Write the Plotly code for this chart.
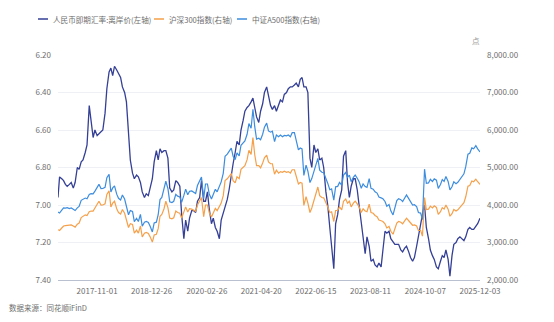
import plotly.graph_objects as go

# ---- x grid: semi-monthly sampling dates (1st and 15th), 2017-01-03 .. 2025-12-03
dates = []
for yr in range(2017, 2026):
    for mo in range(1, 13):
        if (yr, mo) > (2025, 11):
            break
        for d in (1, 15):
            dates.append(f"{yr}-{mo:02d}-{d:02d}")
dates[0] = "2017-01-03"
dates.append("2025-12-03")

# ---- values
cny_offshore = [
    6.96, 6.85, 6.86, 6.87, 6.89, 6.90, 6.89, 6.88, 6.91, 6.88, 6.80, 6.81, 6.77, 6.76, 6.72, 6.68, 6.47, 6.55, 6.64, 6.60, 6.63, 6.62, 6.61, 6.60,
    6.51, 6.38, 6.29, 6.27, 6.31, 6.26, 6.28, 6.30, 6.32, 6.37, 6.40, 6.45, 6.62, 6.76, 6.83, 6.86, 6.84, 6.85, 6.88, 6.93, 6.96, 6.94, 6.95, 6.90,
    6.86, 6.77, 6.71, 6.76, 6.70, 6.72, 6.71, 6.71, 6.75, 6.91, 6.93, 6.92, 6.87, 6.88, 6.90, 7.05, 7.18, 7.08, 7.14, 7.07, 7.03, 7.03, 7.04, 6.98,
    6.96, 6.87, 6.98, 6.98, 6.93, 7.02, 7.10, 7.07, 7.12, 7.14, 7.18, 7.08, 7.04, 7.00, 6.97, 6.92, 6.83, 6.78, 6.72, 6.66, 6.68, 6.60, 6.55, 6.50,
    6.48, 6.47, 6.45, 6.43, 6.48, 6.53, 6.56, 6.50, 6.46, 6.40, 6.37, 6.42, 6.47, 6.49, 6.47, 6.50, 6.46, 6.44, 6.45, 6.41, 6.40, 6.38, 6.37, 6.37,
    6.36, 6.35, 6.37, 6.33, 6.32, 6.37, 6.37, 6.40, 6.75, 6.80, 6.68, 6.72, 6.70, 6.76, 6.75, 6.80, 6.93, 7.00, 7.12, 7.22, 7.34, 7.10, 7.05, 6.97,
    6.92, 6.74, 6.71, 6.88, 6.96, 6.90, 6.86, 6.86, 6.92, 7.00, 7.10, 7.15, 7.26, 7.17, 7.22, 7.30, 7.29, 7.32, 7.33, 7.31, 7.33, 7.24, 7.14, 7.15,
    7.14, 7.18, 7.20, 7.21, 7.21, 7.21, 7.24, 7.25, 7.23, 7.22, 7.25, 7.28, 7.30, 7.28, 7.22, 7.16, 7.10, 7.05, 7.00, 7.12, 7.18, 7.24, 7.27, 7.29,
    7.33, 7.34, 7.30, 7.27, 7.28, 7.24, 7.29, 7.38, 7.27, 7.21, 7.20, 7.18, 7.17, 7.18, 7.19, 7.17, 7.13, 7.12, 7.13, 7.13, 7.11, 7.10, 7.07,
]

csi300 = [
    3342, 3320, 3387, 3440, 3452, 3463, 3456, 3470, 3439, 3410, 3488, 3520, 3666, 3700, 3737, 3720, 3822, 3840, 3837, 3920, 4006, 4100, 3998, 4000,
    4030, 4280, 4380, 3950, 4050, 4100, 3900, 3800, 3760, 3880, 3780, 3600, 3400, 3500, 3480, 3250, 3330, 3250, 3440, 3150, 3250, 3270, 3240, 3150,
    3010, 3200, 3220, 3370, 3700, 3750, 3900, 4100, 3930, 3650, 3630, 3660, 3840, 3800, 3780, 3650, 3800, 3950, 3815, 3900, 3890, 3870, 3830, 4000,
    4100, 4200, 3690, 4000, 4000, 3800, 3680, 3800, 3910, 3850, 3970, 4050, 4250, 4650, 4700, 4780, 4840, 4650, 4590, 4750, 4700, 4950, 5000, 5050,
    5210, 5460, 5350, 5800, 5340, 5050, 5050, 4990, 5120, 5260, 5330, 5150, 5100, 5100, 4820, 4930, 4850, 4890, 4870, 4900, 4870, 4890, 4850, 4940,
    4940, 4740, 4560, 4600, 4580, 3990, 4220, 4050, 3800, 3920, 4100, 4300, 4480, 4250, 4200, 4190, 4080, 3950, 3800, 3820, 3560, 3850, 3860, 3950,
    3870, 4100, 4160, 4050, 4100, 3950, 4050, 4100, 4030, 3950, 3800, 3900, 3840, 3820, 4020, 3800, 3780, 3720, 3690, 3600, 3580, 3560, 3500, 3390,
    3430, 3300, 3220, 3380, 3520, 3560, 3540, 3500, 3600, 3650, 3580, 3530, 3460, 3470, 3440, 3320, 3320, 3170, 4200, 3880, 3890, 3970, 3920, 3980,
    3935, 3750, 3820, 3930, 3890, 4000, 3890, 3700, 3770, 3880, 3840, 3870, 3940, 4000, 4060, 4220, 4500, 4520, 4640, 4620, 4690, 4620, 4550,
]

csi_a500 = [
    3810, 3785, 3861, 3922, 3918, 3930, 3905, 3921, 3886, 3853, 3924, 3960, 4124, 4144, 4185, 4166, 4281, 4301, 4297, 4371, 4467, 4551, 4438, 4440,
    4473, 4729, 4818, 4345, 4455, 4510, 4290, 4180, 4136, 4268, 4158, 3960, 3740, 3850, 3828, 3559, 3646, 3559, 3750, 3434, 3543, 3564, 3532, 3434,
    3281, 3520, 3542, 3741, 4144, 4200, 4407, 4633, 4441, 4088, 4066, 4099, 4282, 4237, 4215, 4070, 4256, 4424, 4273, 4368, 4376, 4354, 4309, 4520,
    4633, 4746, 4170, 4560, 4560, 4294, 4158, 4294, 4418, 4351, 4506, 4617, 4845, 5301, 5358, 5449, 5518, 5301, 5210, 5391, 5311, 5594, 5650, 5707,
    5887, 6170, 6046, 6554, 6088, 5757, 5782, 5739, 5888, 6075, 6183, 5974, 5942, 5967, 5688, 5867, 5820, 5868, 5820, 5856, 5844, 5868, 5820, 5928,
    5928, 5688, 5472, 5520, 5496, 4788, 5064, 4901, 4598, 4704, 4879, 5074, 5242, 4930, 4872, 4860, 4733, 4582, 4408, 4431, 4130, 4485, 4497, 4602,
    4528, 4797, 4867, 4739, 4797, 4622, 4739, 4797, 4715, 4622, 4446, 4563, 4493, 4469, 4703, 4446, 4423, 4352, 4317, 4212, 4189, 4165, 4095, 3966,
    4013, 3845, 3735, 3938, 4118, 4165, 4142, 4095, 4212, 4271, 4171, 4095, 3996, 4008, 3956, 3801, 3785, 3614, 4956, 4578, 4590, 4685, 4626, 4696,
    4663, 4444, 4546, 4677, 4629, 4760, 4629, 4403, 4486, 4617, 4570, 4605, 4689, 4760, 4831, 5022, 5355, 5379, 5522, 5498, 5581, 5498, 5415,
]

x_tick_labels = ["2017-11-01", "2018-12-26", "2020-02-26", "2021-04-20",
                 "2022-06-15", "2023-08-11", "2024-10-07", "2025-12-03"]
left_ticks = [6.20, 6.40, 6.60, 6.80, 7.00, 7.20, 7.40]
right_ticks = [2000, 3000, 4000, 5000, 6000, 7000, 8000]

names = ["人民币即期汇率:离岸价(左轴)", "沪深300指数(右轴)", "中证A500指数(右轴)"]
colors = ["#343f96", "#f5a04a", "#3d8ddf"]

FONT = "Noto Sans CJK SC"
GRAY = "#6e6e6e"

fig = go.Figure()
fig.add_trace(go.Scatter(x=dates, y=csi300, name=names[1], yaxis="y2", mode="lines",
                         line=dict(color=colors[1], width=1.2), showlegend=False))
fig.add_trace(go.Scatter(x=dates, y=csi_a500, name=names[2], yaxis="y2", mode="lines",
                         line=dict(color=colors[2], width=1.2), showlegend=False))
fig.add_trace(go.Scatter(x=dates, y=cny_offshore, name=names[0], yaxis="y", mode="lines",
                         line=dict(color=colors[0], width=1.3), showlegend=False))

W, H = 554, 322
L, R, T, B = 58, 74, 55, 42

fig.update_layout(
    width=W, height=H,
    margin=dict(l=L, r=R, t=T, b=B, pad=0),
    paper_bgcolor="white", plot_bgcolor="white",
    font=dict(family=FONT, size=8, color=GRAY),
    xaxis=dict(type="date", range=["2017-01-03", "2025-12-03"],
               tickvals=x_tick_labels, ticktext=x_tick_labels,
               showgrid=False, zeroline=False, showline=True,
               linecolor="#b9c0cf", linewidth=1, ticks="",
               tickfont=dict(size=8, color=GRAY), ticklabelstandoff=3),
    yaxis=dict(range=[7.4, 6.2], tickvals=left_ticks, tickformat=".2f",
               showgrid=True, gridcolor="#eef0f5", gridwidth=1, zeroline=False,
               showline=False, ticks="", tickfont=dict(size=8, color=GRAY),
               ticklabelstandoff=6),
    yaxis2=dict(range=[2000, 8000], tickvals=right_ticks, tickformat=",.2f",
                overlaying="y", side="right", showgrid=False, zeroline=False,
                showline=False, ticks="", tickfont=dict(size=8, color=GRAY),
                ticklabelstandoff=6),
    showlegend=False,
)

# manual legend (pixel positions converted to paper coords)
pw, ph = W - L - R, H - T - B
def px(x):
    return (x - L) / pw
def py(y):
    return (H - B - y) / ph

legend_items = [(38, 48, 51), (154, 164, 167), (237, 247, 250)]
for (x0, x1, tx), name, col in zip(legend_items, names, colors):
    fig.add_shape(type="line", xref="paper", yref="paper",
                  x0=px(x0), x1=px(x1), y0=py(19), y1=py(19),
                  line=dict(color=col, width=1.5))
    fig.add_annotation(xref="paper", yref="paper", x=px(tx), y=py(19),
                       text=name, showarrow=False, xanchor="left", yanchor="middle",
                       font=dict(size=7.6, color=GRAY, family=FONT))

fig.add_annotation(xref="paper", yref="paper", x=px(476), y=py(40), text="点",
                   showarrow=False, xanchor="center", yanchor="middle",
                   font=dict(size=7.5, color="#999999", family=FONT))
fig.add_annotation(xref="paper", yref="paper", x=px(7), y=py(307), text="数据来源：同花顺iFinD",
                   showarrow=False, xanchor="left", yanchor="middle",
                   font=dict(size=7.5, color=GRAY, family=FONT))

fig.write_html("out.html")
